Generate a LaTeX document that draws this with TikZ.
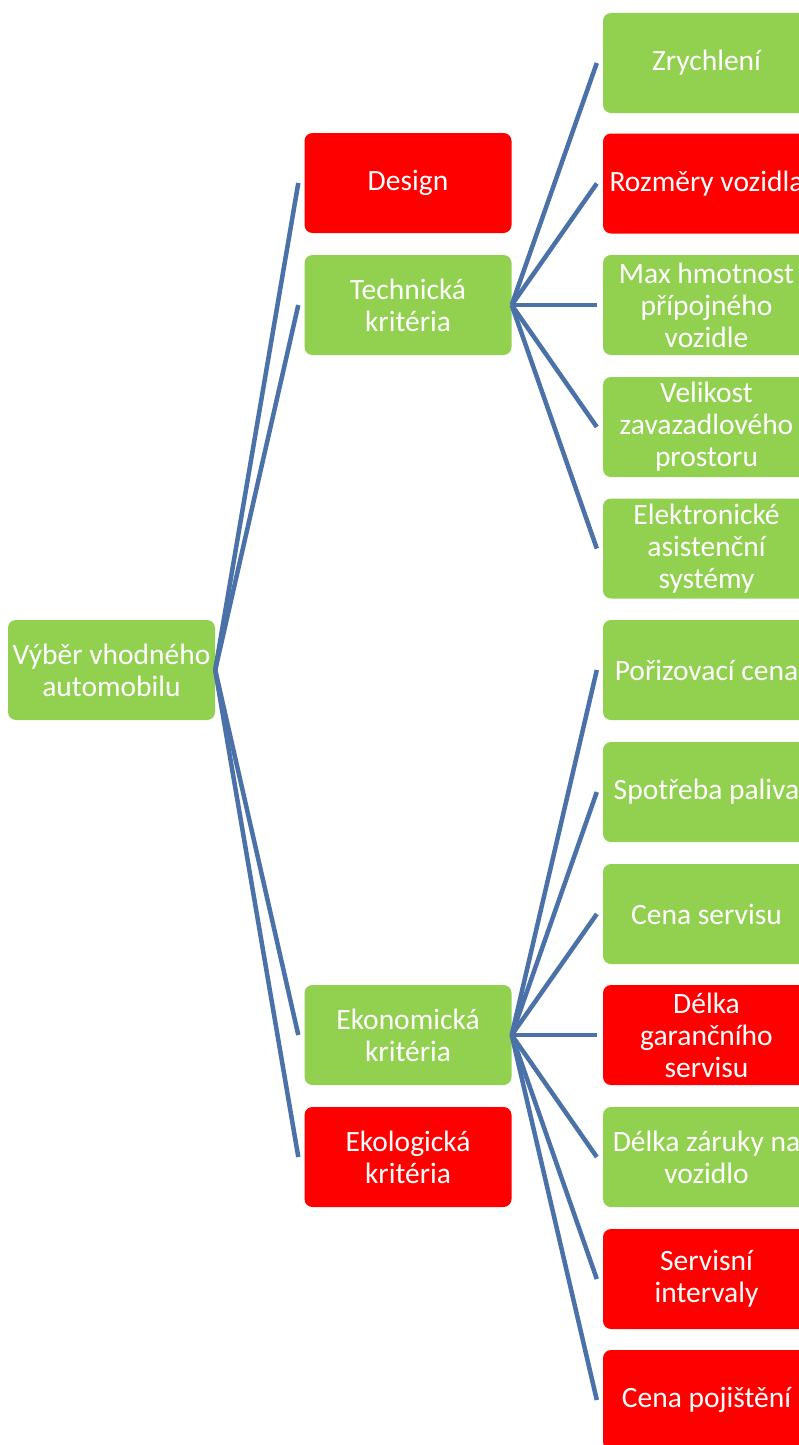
\documentclass[tikz,border=0pt]{standalone}
\usepackage{fontspec}
\setmainfont{Carlito}
\definecolor{lgreen}{HTML}{92D050}
\definecolor{lred}{HTML}{FF0000}
\definecolor{conn}{HTML}{4A72A8}
\tikzset{
  box/.style={rectangle, rounded corners=8pt, minimum width=207pt, minimum height=100pt, inner sep=0pt, text=white, align=center, font=\fontsize{29.5}{32}\selectfont},
  gbox/.style={box, fill=lgreen},
  rbox/.style={box, fill=lred},
  link/.style={draw=conn, line width=4.5pt, line cap=butt}
}
\begin{document}
\begin{tikzpicture}[x=1pt,y=-1pt]
\clip (0,0) rectangle (799,1445);
\fill[white] (0,0) rectangle (799,1445);
% root
\node[gbox] (root) at (111.5,670) {Výběr vhodného\\automobilu};
% middle column
\node[rbox] (design) at (408,183) {Design};
\node[gbox] (tech) at (408,305) {Technická\\kritéria};
\node[gbox] (eko) at (408,1035) {Ekonomická\\kritéria};
\node[rbox] (ekol) at (408,1157) {Ekologická\\kritéria};
% right column
\node[gbox] (t1) at (706.5,63) {Zrychlení};
\node[rbox] (t2) at (706.5,183.5) {Rozměry vozidla};
\node[gbox] (t3) at (706.5,305) {Max hmotnost\\přípojného\\vozidle};
\node[gbox] (t4) at (706.5,427) {Velikost\\zavazadlového\\prostoru};
\node[gbox] (t5) at (706.5,548.5) {Elektronické\\asistenční\\systémy};
\node[gbox] (e1) at (706.5,670) {Pořizovací cena};
\node[gbox] (e2) at (706.5,792) {Spotřeba paliva};
\node[gbox] (e3) at (706.5,914) {Cena servisu};
\node[rbox] (e4) at (706.5,1035) {Délka\\garančního\\servisu};
\node[gbox] (e5) at (706.5,1157) {Délka záruky na\\vozidlo};
\node[rbox] (e6) at (706.5,1279) {Servisní\\intervaly};
\node[rbox] (e7) at (706.5,1400) {Cena pojištění};
% connectors
\foreach \c in {design,tech,eko,ekol}
  \draw[link] (root.east) -- ([xshift=-6pt]\c.west);
\foreach \c in {t1,t2,t3,t4,t5}
  \draw[link] (tech.east) -- ([xshift=-6pt]\c.west);
\foreach \c in {e1,e2,e3,e4,e5,e6,e7}
  \draw[link] (eko.east) -- ([xshift=-6pt]\c.west);
\end{tikzpicture}
\end{document}
